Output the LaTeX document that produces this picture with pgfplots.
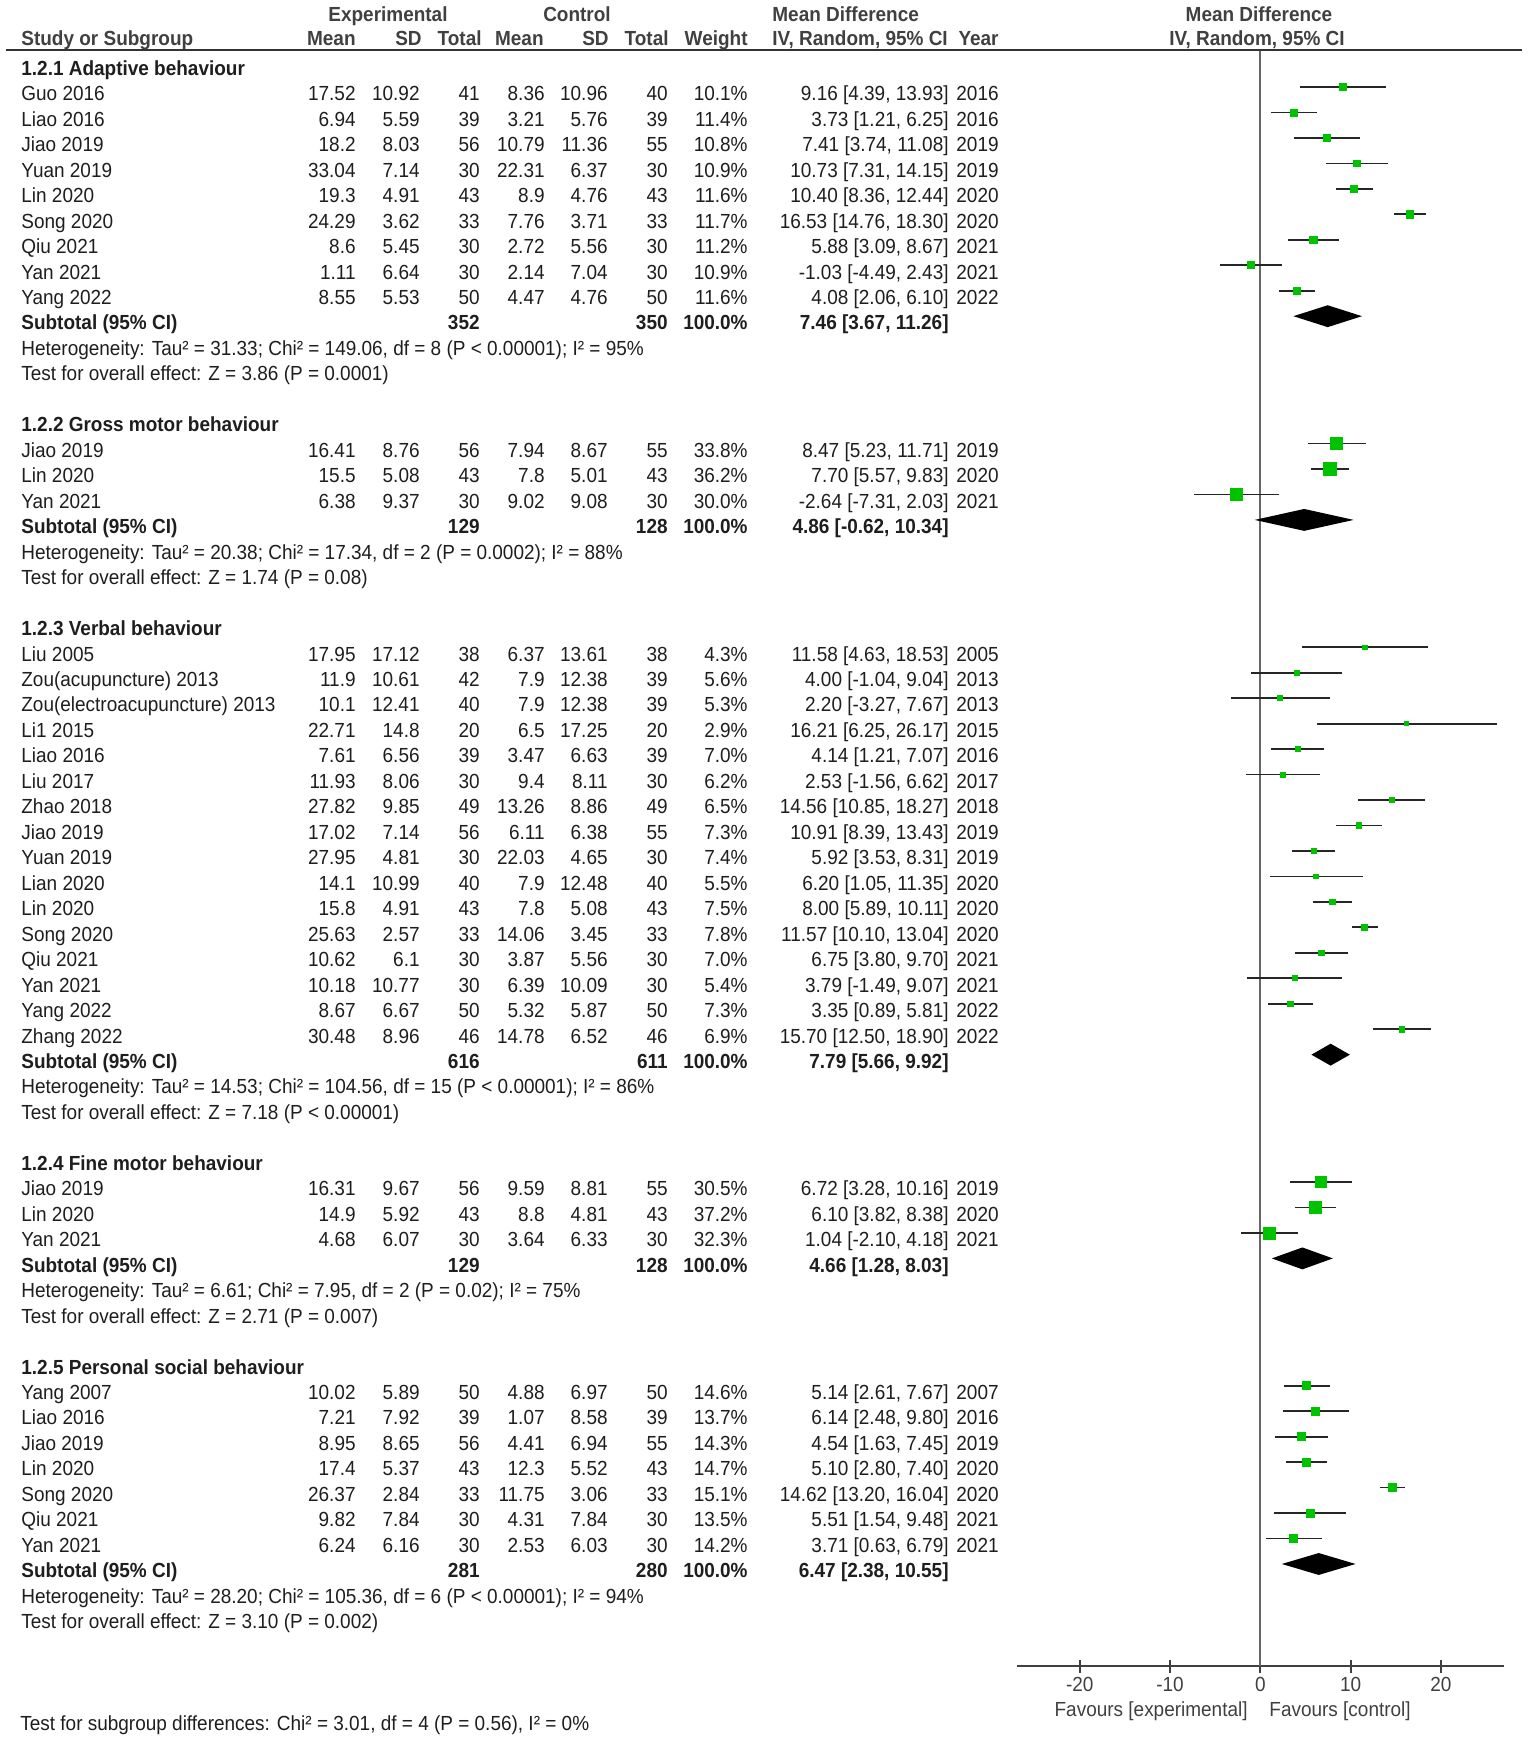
\documentclass[border=0pt]{standalone}
\usepackage{fontspec}
\setmainfont{Liberation Sans}[FakeStretch=0.93]
\usepackage{pgfplots}
\usepackage{pgfplotstable}
\pgfplotsset{compat=1.18}

\definecolor{mdgreen}{RGB}{0,195,0}
\definecolor{txt}{RGB}{30,30,30}
\definecolor{hdr}{RGB}{64,64,64}
\newcommand\bodyfont{\fontsize{10.2pt}{12pt}\selectfont}

% row  md  lo  hi  weight (row = line of the table, counted from 1.2.1)
\pgfplotstableread{
row md lo hi w
1 9.16 4.39 13.93 10.1
2 3.73 1.21 6.25 11.4
3 7.41 3.74 11.08 10.8
4 10.73 7.31 14.15 10.9
5 10.40 8.36 12.44 11.6
6 16.53 14.76 18.30 11.7
7 5.88 3.09 8.67 11.2
8 -1.03 -4.49 2.43 10.9
9 4.08 2.06 6.10 11.6
}\gA
\pgfplotstableread{
row md lo hi w
15 8.47 5.23 11.71 33.8
16 7.70 5.57 9.83 36.2
17 -2.64 -7.31 2.03 30.0
}\gB
\pgfplotstableread{
row md lo hi w
23 11.58 4.63 18.53 4.3
24 4.00 -1.04 9.04 5.6
25 2.20 -3.27 7.67 5.3
26 16.21 6.25 26.17 2.9
27 4.14 1.21 7.07 7.0
28 2.53 -1.56 6.62 6.2
29 14.56 10.85 18.27 6.5
30 10.91 8.39 13.43 7.3
31 5.92 3.53 8.31 7.4
32 6.20 1.05 11.35 5.5
33 8.00 5.89 10.11 7.5
34 11.57 10.10 13.04 7.8
35 6.75 3.80 9.70 7.0
36 3.79 -1.49 9.07 5.4
37 3.35 0.89 5.81 7.3
38 15.70 12.50 18.90 6.9
}\gC
\pgfplotstableread{
row md lo hi w
44 6.72 3.28 10.16 30.5
45 6.10 3.82 8.38 37.2
46 1.04 -2.10 4.18 32.3
}\gD
\pgfplotstableread{
row md lo hi w
52 5.14 2.61 7.67 14.6
53 6.14 2.48 9.80 13.7
54 4.54 1.63 7.45 14.3
55 5.10 2.80 7.40 14.7
56 14.62 13.20 16.04 15.1
57 5.51 1.54 9.48 13.5
58 3.71 0.63 6.79 14.2
}\gE

% text table helpers (coordinates in pixels of the reference)
\newcount\rk
\newcommand\rowy{100.8+(\the\rk-1)*25.465}
\newcommand\tcell[3]{\node[anchor=base #1,inner sep=0pt,text=txt,font=\bodyfont] at (#2,{\rowy}) {#3};}
\newcommand\trow[9]{\tcell{west}{21}{#1}\tcell{east}{356}{#2}\tcell{east}{420}{#3}\tcell{east}{480}{#4}%
  \tcell{east}{545}{#5}\tcell{east}{608}{#6}\tcell{east}{668}{#7}\tcell{east}{748}{#8}\tcell{east}{949}{#9}\tyear}
\newcommand\tyear[1]{\tcell{east}{999}{#1}\global\advance\rk by 1\relax}
\newcommand\tsub[3]{\tcell{west}{21}{\bfseries Subtotal (95\% CI)}\tcell{east}{480}{\bfseries #1}%
  \tcell{east}{668}{\bfseries #2}\tcell{east}{748}{\bfseries 100.0\%}\tcell{east}{949}{\bfseries #3}\global\advance\rk by 1\relax}
\newcommand\tgrp[1]{\tcell{west}{21}{\bfseries #1}\global\advance\rk by 1\relax}
\newcommand\tnote[1]{\tcell{west}{21}{#1}\global\advance\rk by 1\relax}
\newcommand\tgap{\global\advance\rk by 1\relax}

\begin{document}
\begin{tikzpicture}
\path[use as bounding box] (0,0) rectangle (767.5pt,-872.5pt);

\begin{axis}[
  at={(508.25pt,-833pt)}, anchor=south west,
  scale only axis, width=243.8pt, height=808pt,
  xmin=-27, xmax=27, ymin=-63.007, ymax=0.453,
  axis x line*=bottom, axis y line=none,
  axis line style={-, line width=0.9pt, draw=hdr},
  xtick={-20,-10,0,10,20}, ytick=\empty,
  tick align=center, major tick length=6.5pt,
  tick style={line width=0.9pt, draw=hdr},
  xticklabel style={font=\bodyfont, text=hdr, anchor=base, inner sep=0pt, yshift=-9.5pt},
  /pgf/number format/assume math mode=true,
  clip=false,
  ci/.style={draw=none, mark=none, error bars/.cd, x dir=both, x explicit, error mark=none,
    error bar style={draw=black!85, line width=0.9pt}},
  box/.style={scatter, only marks, mark=square*, point meta=\thisrow{w},
    scatter/use mapped color={draw=mdgreen, fill=mdgreen},
    visualization depends on={0.525*sqrt(\thisrow{w}) \as \msize},
    scatter/@pre marker code/.append style={/tikz/mark size=\msize}},
  table/citab/.style={x=md, y expr=-\thisrow{row},
    x error plus expr=\thisrow{hi}-\thisrow{md}, x error minus expr=\thisrow{md}-\thisrow{lo}},
  table/mdtab/.style={x=md, y expr=-\thisrow{row}},
]
\addplot[black!60, line width=0.9pt] coordinates {(0,0.453) (0,-63.007)};
\addplot[ci] table[citab] {\gA};
\addplot[box] table[mdtab] {\gA};
\addplot[ci] table[citab] {\gB};
\addplot[box] table[mdtab] {\gB};
\addplot[ci] table[citab] {\gC};
\addplot[box] table[mdtab] {\gC};
\addplot[ci] table[citab] {\gD};
\addplot[box] table[mdtab] {\gD};
\addplot[ci] table[citab] {\gE};
\addplot[box] table[mdtab] {\gE};
% subtotal diamonds: lo, estimate, hi
\addplot[fill=black, draw=none] coordinates {(3.67,-10) (7.46,-9.57) (11.26,-10) (7.46,-10.43)};
\addplot[fill=black, draw=none] coordinates {(-0.62,-18) (4.86,-17.57) (10.34,-18) (4.86,-18.43)};
\addplot[fill=black, draw=none] coordinates {(5.66,-39) (7.79,-38.57) (9.92,-39) (7.79,-39.43)};
\addplot[fill=black, draw=none] coordinates {(1.28,-47) (4.66,-46.57) (8.03,-47) (4.66,-47.43)};
\addplot[fill=black, draw=none] coordinates {(2.38,-59) (6.47,-58.57) (10.55,-59) (6.47,-59.43)};
\end{axis}

\begin{scope}[x=0.5pt, y=-0.5pt]
\draw[line width=0.9pt, black!80] (6,50) -- (1522,50);
\begin{scope}[every node/.style={inner sep=0pt, font=\bodyfont\bfseries, text=hdr}]
\node[anchor=base] at (388,21) {Experimental};
\node[anchor=base] at (577,21) {Control};
\node[anchor=base west] at (772,21) {Mean Difference};
\node[anchor=base] at (1259,21) {Mean Difference};
\node[anchor=base west] at (21,46) {Study or Subgroup};
\node[anchor=base east] at (356,46) {Mean};
\node[anchor=base east] at (422,46) {SD};
\node[anchor=base east] at (482,46) {Total};
\node[anchor=base east] at (544,46) {Mean};
\node[anchor=base east] at (609,46) {SD};
\node[anchor=base east] at (669,46) {Total};
\node[anchor=base east] at (748,46) {Weight};
\node[anchor=base west] at (772,46) {IV, Random, 95\% CI};
\node[anchor=base east] at (999,46) {Year};
\node[anchor=base] at (1257,46) {IV, Random, 95\% CI};
\end{scope}

\global\rk=0
\tgrp{1.2.1 Adaptive behaviour}
\trow{Guo 2016}{17.52}{10.92}{41}{8.36}{10.96}{40}{10.1\%}{9.16 [4.39, 13.93]}{2016}
\trow{Liao 2016}{6.94}{5.59}{39}{3.21}{5.76}{39}{11.4\%}{3.73 [1.21, 6.25]}{2016}
\trow{Jiao 2019}{18.2}{8.03}{56}{10.79}{11.36}{55}{10.8\%}{7.41 [3.74, 11.08]}{2019}
\trow{Yuan 2019}{33.04}{7.14}{30}{22.31}{6.37}{30}{10.9\%}{10.73 [7.31, 14.15]}{2019}
\trow{Lin 2020}{19.3}{4.91}{43}{8.9}{4.76}{43}{11.6\%}{10.40 [8.36, 12.44]}{2020}
\trow{Song 2020}{24.29}{3.62}{33}{7.76}{3.71}{33}{11.7\%}{16.53 [14.76, 18.30]}{2020}
\trow{Qiu 2021}{8.6}{5.45}{30}{2.72}{5.56}{30}{11.2\%}{5.88 [3.09, 8.67]}{2021}
\trow{Yan 2021}{1.11}{6.64}{30}{2.14}{7.04}{30}{10.9\%}{-1.03 [-4.49, 2.43]}{2021}
\trow{Yang 2022}{8.55}{5.53}{50}{4.47}{4.76}{50}{11.6\%}{4.08 [2.06, 6.10]}{2022}
\tsub{352}{350}{7.46 [3.67, 11.26]}
\tnote{Heterogeneity: Tau² = 31.33; Chi² = 149.06, df = 8 (P < 0.00001); I² = 95\%}
\tnote{Test for overall effect: Z = 3.86 (P = 0.0001)}
\tgap
\tgrp{1.2.2 Gross motor behaviour}
\trow{Jiao 2019}{16.41}{8.76}{56}{7.94}{8.67}{55}{33.8\%}{8.47 [5.23, 11.71]}{2019}
\trow{Lin 2020}{15.5}{5.08}{43}{7.8}{5.01}{43}{36.2\%}{7.70 [5.57, 9.83]}{2020}
\trow{Yan 2021}{6.38}{9.37}{30}{9.02}{9.08}{30}{30.0\%}{-2.64 [-7.31, 2.03]}{2021}
\tsub{129}{128}{4.86 [-0.62, 10.34]}
\tnote{Heterogeneity: Tau² = 20.38; Chi² = 17.34, df = 2 (P = 0.0002); I² = 88\%}
\tnote{Test for overall effect: Z = 1.74 (P = 0.08)}
\tgap
\tgrp{1.2.3 Verbal behaviour}
\trow{Liu 2005}{17.95}{17.12}{38}{6.37}{13.61}{38}{4.3\%}{11.58 [4.63, 18.53]}{2005}
\trow{Zou(acupuncture) 2013}{11.9}{10.61}{42}{7.9}{12.38}{39}{5.6\%}{4.00 [-1.04, 9.04]}{2013}
\trow{Zou(electroacupuncture) 2013}{10.1}{12.41}{40}{7.9}{12.38}{39}{5.3\%}{2.20 [-3.27, 7.67]}{2013}
\trow{Li1 2015}{22.71}{14.8}{20}{6.5}{17.25}{20}{2.9\%}{16.21 [6.25, 26.17]}{2015}
\trow{Liao 2016}{7.61}{6.56}{39}{3.47}{6.63}{39}{7.0\%}{4.14 [1.21, 7.07]}{2016}
\trow{Liu 2017}{11.93}{8.06}{30}{9.4}{8.11}{30}{6.2\%}{2.53 [-1.56, 6.62]}{2017}
\trow{Zhao 2018}{27.82}{9.85}{49}{13.26}{8.86}{49}{6.5\%}{14.56 [10.85, 18.27]}{2018}
\trow{Jiao 2019}{17.02}{7.14}{56}{6.11}{6.38}{55}{7.3\%}{10.91 [8.39, 13.43]}{2019}
\trow{Yuan 2019}{27.95}{4.81}{30}{22.03}{4.65}{30}{7.4\%}{5.92 [3.53, 8.31]}{2019}
\trow{Lian 2020}{14.1}{10.99}{40}{7.9}{12.48}{40}{5.5\%}{6.20 [1.05, 11.35]}{2020}
\trow{Lin 2020}{15.8}{4.91}{43}{7.8}{5.08}{43}{7.5\%}{8.00 [5.89, 10.11]}{2020}
\trow{Song 2020}{25.63}{2.57}{33}{14.06}{3.45}{33}{7.8\%}{11.57 [10.10, 13.04]}{2020}
\trow{Qiu 2021}{10.62}{6.1}{30}{3.87}{5.56}{30}{7.0\%}{6.75 [3.80, 9.70]}{2021}
\trow{Yan 2021}{10.18}{10.77}{30}{6.39}{10.09}{30}{5.4\%}{3.79 [-1.49, 9.07]}{2021}
\trow{Yang 2022}{8.67}{6.67}{50}{5.32}{5.87}{50}{7.3\%}{3.35 [0.89, 5.81]}{2022}
\trow{Zhang 2022}{30.48}{8.96}{46}{14.78}{6.52}{46}{6.9\%}{15.70 [12.50, 18.90]}{2022}
\tsub{616}{611}{7.79 [5.66, 9.92]}
\tnote{Heterogeneity: Tau² = 14.53; Chi² = 104.56, df = 15 (P < 0.00001); I² = 86\%}
\tnote{Test for overall effect: Z = 7.18 (P < 0.00001)}
\tgap
\tgrp{1.2.4 Fine motor behaviour}
\trow{Jiao 2019}{16.31}{9.67}{56}{9.59}{8.81}{55}{30.5\%}{6.72 [3.28, 10.16]}{2019}
\trow{Lin 2020}{14.9}{5.92}{43}{8.8}{4.81}{43}{37.2\%}{6.10 [3.82, 8.38]}{2020}
\trow{Yan 2021}{4.68}{6.07}{30}{3.64}{6.33}{30}{32.3\%}{1.04 [-2.10, 4.18]}{2021}
\tsub{129}{128}{4.66 [1.28, 8.03]}
\tnote{Heterogeneity: Tau² = 6.61; Chi² = 7.95, df = 2 (P = 0.02); I² = 75\%}
\tnote{Test for overall effect: Z = 2.71 (P = 0.007)}
\tgap
\tgrp{1.2.5 Personal social behaviour}
\trow{Yang 2007}{10.02}{5.89}{50}{4.88}{6.97}{50}{14.6\%}{5.14 [2.61, 7.67]}{2007}
\trow{Liao 2016}{7.21}{7.92}{39}{1.07}{8.58}{39}{13.7\%}{6.14 [2.48, 9.80]}{2016}
\trow{Jiao 2019}{8.95}{8.65}{56}{4.41}{6.94}{55}{14.3\%}{4.54 [1.63, 7.45]}{2019}
\trow{Lin 2020}{17.4}{5.37}{43}{12.3}{5.52}{43}{14.7\%}{5.10 [2.80, 7.40]}{2020}
\trow{Song 2020}{26.37}{2.84}{33}{11.75}{3.06}{33}{15.1\%}{14.62 [13.20, 16.04]}{2020}
\trow{Qiu 2021}{9.82}{7.84}{30}{4.31}{7.84}{30}{13.5\%}{5.51 [1.54, 9.48]}{2021}
\trow{Yan 2021}{6.24}{6.16}{30}{2.53}{6.03}{30}{14.2\%}{3.71 [0.63, 6.79]}{2021}
\tsub{281}{280}{6.47 [2.38, 10.55]}
\tnote{Heterogeneity: Tau² = 28.20; Chi² = 105.36, df = 6 (P < 0.00001); I² = 94\%}
\tnote{Test for overall effect: Z = 3.10 (P = 0.002)}

\begin{scope}[every node/.style={inner sep=0pt, font=\bodyfont, text=hdr}]
\node[anchor=base east] at (1248,1716) {Favours [experimental]};
\node[anchor=base west] at (1269,1716) {Favours [control]};
\node[anchor=base west, text=txt] at (20,1730) {Test for subgroup differences: Chi² = 3.01, df = 4 (P = 0.56), I² = 0\%};
\end{scope}
\end{scope}
\end{tikzpicture}
\end{document}
